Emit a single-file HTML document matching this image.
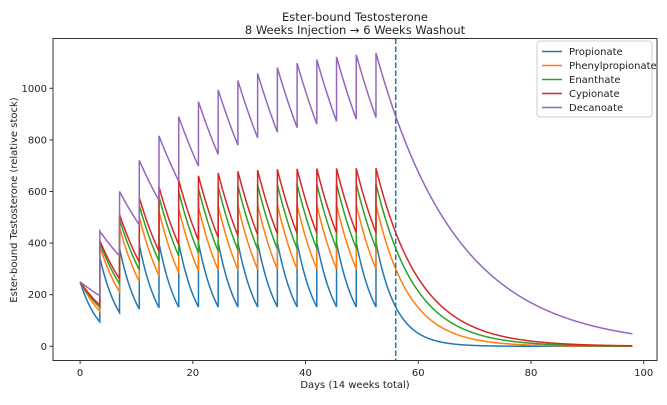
<!DOCTYPE html>
<html><head><meta charset="utf-8"><style>
body{margin:0;background:#fff;font-family:"Liberation Sans","DejaVu Sans",sans-serif}
svg text{font-family:"DejaVu Sans","Liberation Sans",sans-serif;fill:#222}
</style></head><body>
<svg id="chart" width="667" height="400" xmlns="http://www.w3.org/2000/svg">
<text x="355" y="21" font-size="11.5" text-anchor="middle">Ester-bound Testosterone</text>
<text x="355" y="34" font-size="11.5" text-anchor="middle">8 Weeks Injection → 6 Weeks Washout</text>
<g id="plot"></g>
<rect x="53" y="38.5" width="604" height="322" fill="none" stroke="#333" stroke-width="1"/>
<text x="355" y="388" font-size="10" text-anchor="middle">Days (14 weeks total)</text>
<text transform="translate(17,200) rotate(-90)" font-size="10" text-anchor="middle">Ester-bound Testosterone (relative stock)</text>
<g id="legend"></g>
</svg>
<script>
const seriesNames=["Propionate","Phenylpropionate","Enanthate","Cypionate","Decanoate"];
const seriesColors=["#1f77b4","#ff7f0e","#2ca02c","#d62728","#9467bd"];
const halfLives=[2.5,4.0,4.8,5.4,10.0];
const injectionDays=[0,3.5,7,10.5,14,17.5,21,24.5,28,31.5,35,38.5,42,45.5,49,52.5];
const doseValues=[250];
const washoutDay=[56];
const endDay=[98];
const xTicks=[0,20,40,60,80,100];
const yTicks=[0,200,400,600,800,1000];
const NS="http://www.w3.org/2000/svg";
const X=d=>80.1+d*5.636;
const Y=v=>346.3-v*0.258;
const plot=document.getElementById('plot');
function mk(tag,attrs,parent){const e=document.createElementNS(NS,tag);for(const k in attrs)e.setAttribute(k,attrs[k]);parent.appendChild(e);return e;}
xTicks.forEach(t=>{
  const l=mk('line',{x1:X(t),x2:X(t),y1:360.5,y2:364,stroke:'#333'},plot);
  
  
  const tx=mk('text',{x:X(t),y:376,'font-size':10,'text-anchor':'middle'},plot);tx.textContent=t;
  
  
});
yTicks.forEach(t=>{
  const l=mk('line',{x1:49.5,x2:53,y1:Y(t),y2:Y(t),stroke:'#333'},plot);
  
  
  const tx=mk('text',{x:47,y:Y(t)+3.5,'font-size':10,'text-anchor':'end'},plot);tx.textContent=t;
  
  
});
const step=0.05;
seriesNames.forEach((name,i)=>{
  const k=Math.log(2)/halfLives[i];
  let pts=[],amt=0,last=0,inj=0;
  for(let t=0;t<=endDay[0]+1e-9;t=Math.round((t+step)*1000)/1000){
    amt*=Math.exp(-k*(t-last));last=t;
    if(inj<injectionDays.length&&Math.abs(t-injectionDays[inj])<1e-6){
      if(amt>0) pts.push(X(t).toFixed(2)+','+Y(amt).toFixed(2));
      amt+=doseValues[0];inj++;
    }
    pts.push(X(t).toFixed(2)+','+Y(amt).toFixed(2));
  }
  const p=mk('polyline',{points:pts.join(' '),fill:'none',stroke:seriesColors[i],'stroke-width':1.5},plot);
  
  
});
const dl=mk('line',{x1:X(washoutDay[0]),x2:X(washoutDay[0]),y1:38.5,y2:360.5,stroke:'#1f77b4','stroke-width':1.5,'stroke-dasharray':'5.5,2.5'},plot);


const lg=document.getElementById('legend');
const box=mk('rect',{x:537,y:41,width:115,height:76,rx:3,fill:'#fff',stroke:'#ccc'},lg);


seriesNames.forEach((name,i)=>{
  const y=51.5+i*14;
  const l=mk('line',{x1:542,x2:562,y1:y,y2:y,stroke:seriesColors[i],'stroke-width':1.5},lg);
  
  
  const t=mk('text',{x:569,y:y+3.5,'font-size':10},lg);t.textContent=name;
  
  
});
</script>
</body></html>
